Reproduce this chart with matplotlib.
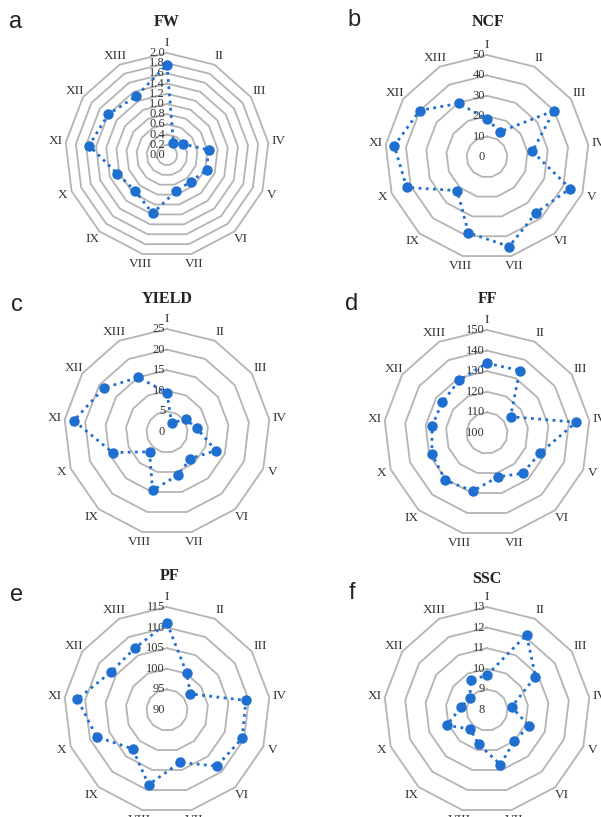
import numpy as np
import matplotlib
matplotlib.use("Agg")
import matplotlib.pyplot as plt
from matplotlib.transforms import offset_copy

W, H = 601, 817
categories = ["I", "II", "III", "IV", "V", "VI", "VII", "VIII", "IX", "X", "XI", "XII", "XIII"]

fw = [1.77, 0.27, 0.38, 0.82, 0.83, 0.70, 0.73, 1.18, 0.94, 1.04, 1.54, 1.40, 1.30]
ncf = [18.5, 14.0, 40.0, 22.4, 43.6, 36.4, 45.2, 38.2, 22.0, 42.1, 45.8, 40.1, 29.7]
yld = [9.5, 2.4, 5.5, 7.3, 12.7, 8.6, 10.8, 14.6, 6.4, 14.1, 22.8, 18.7, 15.0]
ff = [133.9, 134.2, 113.9, 143.6, 127.5, 126.1, 122.0, 129.0, 130.6, 128.6, 126.9, 126.4, 128.9]
pf = [111.1, 100.2, 96.9, 109.3, 109.5, 108.2, 103.1, 108.7, 102.6, 108.3, 111.9, 106.4, 106.9]
ssc = [9.69, 12.13, 10.86, 9.20, 10.20, 10.00, 10.73, 9.71, 9.23, 10.10, 9.25, 9.03, 9.64]

fw_ticks = [0.0, 0.2, 0.4, 0.6, 0.8, 1.0, 1.2, 1.4, 1.6, 1.8, 2.0]
ncf_ticks = [0, 10, 20, 30, 40, 50]
yld_ticks = [0, 5, 10, 15, 20, 25]
ff_ticks = [100, 110, 120, 130, 140, 150]
pf_ticks = [90, 95, 100, 105, 110, 115]
ssc_ticks = [8, 9, 10, 11, 12, 13]

panels = [
    dict(letter="a", title="FW", data=fw, ticks=fw_ticks, fmt="{:.1f}", c=(167, 155), R=102,
         tpos=(167, 22), lpos=(16, 22)),
    dict(letter="b", title="NCF", data=ncf, ticks=ncf_ticks, fmt="{:d}", c=(487, 157), R=102,
         tpos=(488, 22), lpos=(354, 20)),
    dict(letter="c", title="YIELD", data=yld, ticks=yld_ticks, fmt="{:d}", c=(167, 432), R=103,
         tpos=(167, 299), lpos=(17, 305)),
    dict(letter="d", title="FF", data=ff, ticks=ff_ticks, fmt="{:d}", c=(487, 433), R=103,
         tpos=(487, 299), lpos=(352, 304)),
    dict(letter="e", title="PF", data=pf, ticks=pf_ticks, fmt="{:d}", c=(167, 710), R=103,
         tpos=(170, 576), lpos=(17, 595)),
    dict(letter="f", title="SSC", data=ssc, ticks=ssc_ticks, fmt="{:d}", c=(487, 710), R=103,
         tpos=(487, 579), lpos=(352, 593)),
]

fig = plt.figure(figsize=(W / 100, H / 100), dpi=100)
blue = "#1f6fd0"
grid_c = "#b4b4b4"
serif = ["Liberation Serif", "DejaVu Serif"]

n = len(categories)
theta = np.arange(n) * 2 * np.pi / n
theta_c = np.append(theta, theta[0])

for p in panels:
    cx, cy = p["c"]
    R = p["R"]
    ax = fig.add_axes([(cx - R) / W, 1 - (cy + R) / H, 2 * R / W, 2 * R / H], projection="polar")
    ax.set_theta_zero_location("N")
    ax.set_theta_direction(-1)
    rmin, rmax = p["ticks"][0], p["ticks"][-1]
    ax.set_ylim(rmin, rmax)
    ax.grid(False)
    ax.spines["polar"].set_visible(False)
    ax.set_xticks([])
    ax.set_yticks([])
    ax.patch.set_alpha(0)
    for lv in p["ticks"][1:]:
        ax.plot(theta_c, [lv] * (n + 1), color=grid_c, lw=1.3, zorder=1, clip_on=False)
    vals = list(p["data"]) + [p["data"][0]]
    ax.plot(theta_c, vals, color=blue, lw=2.0, ls=(0, (1, 1.6)), zorder=3,
            marker="o", ms=6.5, markevery=list(range(n)), clip_on=False)
    tr = offset_copy(ax.transData, fig=fig, x=-2, y=0, units="dots")
    for lv in p["ticks"]:
        ax.text(0, lv, p["fmt"].format(lv), transform=tr, ha="right", va="center",
                fontsize=9, family=serif, color="#333333", zorder=2)
    for t, lab in zip(theta, categories):
        ax.text(t, rmin + (rmax - rmin) * 1.1, lab, ha="center", va="center",
                fontsize=9.5, family=serif, color="#333333", clip_on=False)
    tx, ty = p["tpos"]
    fig.text(tx / W, 1 - ty / H, p["title"], ha="center", va="center",
             fontsize=11.5, fontweight="bold", family=serif, color="#222222")
    lx, ly = p["lpos"]
    fig.text(lx / W, 1 - ly / H, p["letter"], ha="center", va="center",
             fontsize=17, family=["Liberation Sans", "DejaVu Sans"], color="#222222")

fig.savefig("out.png", dpi=100)
